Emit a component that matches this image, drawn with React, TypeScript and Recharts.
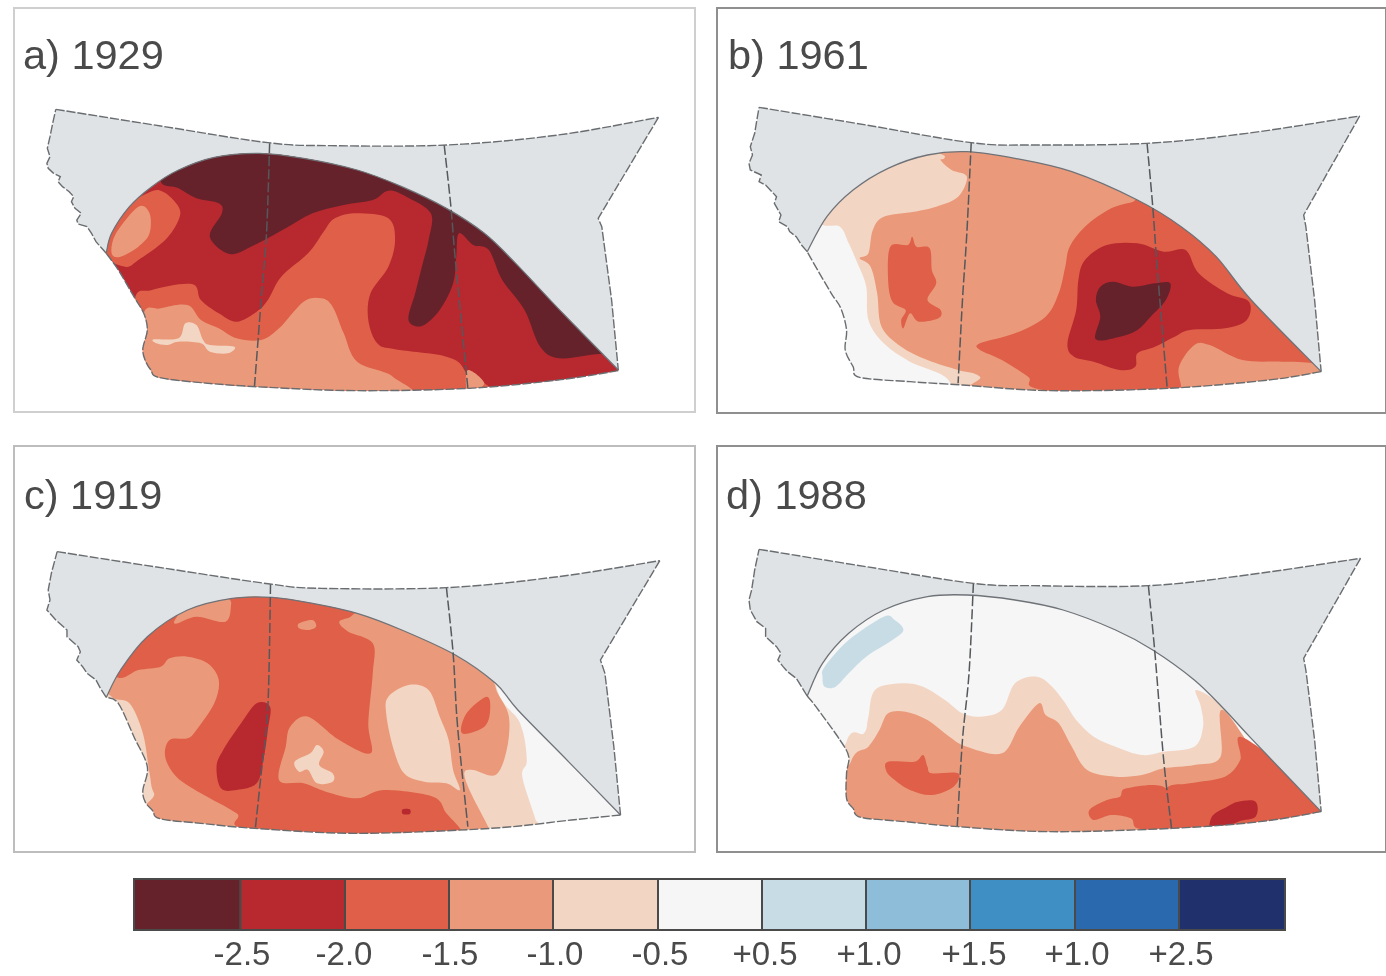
import React from 'react';
import { ScatterChart, Scatter, XAxis, YAxis, ReferenceArea, ReferenceDot } from 'recharts';

type P = number[][];
const W = 1386, H = 976, PLOT_H = 932;
const FONT = '"Liberation Sans", Arial, sans-serif';

const shades = ['#66222a', '#b8282f', '#df5f49', '#ea9a7a', '#f3d5c3', '#f6f6f6', '#c8dce6', '#8dbdd9', '#3f8fc4', '#2a69ad', '#20306c'];
const GRAY = '#dfe3e6';
const legendLabels = ['-2.5', '-2.0', '-1.5', '-1.0', '-0.5', '+0.5', '+1.0', '+1.5', '+1.0', '+2.5'];
const legendTicks = [242, 344, 450, 555, 660, 765, 869, 974, 1077, 1181];

// ---- panel a
const aTop: P = [[125,328],[360,378],[600,428],[740,437],[1000,435],[1250,405],[1475,352]];
const aEast: P = [[1475,352],[1340,655],[1348,680],[1370,900],[1385,1110]];
const aSouth: P = [[1385,1112],[1250,1140],[1050,1165],[800,1172],[600,1162],[450,1148],[355,1132],[338,1110],[325,1080],[320,1045],[330,990],[322,940],[300,890],[265,810],[238,760]];
const aWest: P = [[238,760],[228,745],[215,725],[205,700],[195,680],[175,672],[172,660],[182,640],[168,625],[160,605],[165,590],[155,575],[140,560],[130,545],[135,530],[120,520],[108,505],[105,490],[112,470],[106,445],[112,410],[118,370],[125,328]];
const aArc: P = [[238,760],[250,700],[290,620],[340,560],[400,510],[480,472],[580,460],[680,475],[800,510],[900,560],[1000,625],[1085,700],[1155,790],[1250,925],[1385,1110]];
const aLine1: P = [[604,430],[597,700],[585,900],[570,1160]];
const aLine2: P = [[995,435],[1010,620],[1020,780],[1048,1165]];
const aR1: P = [[360,540],[400,565],[440,595],[490,610],[497,640],[470,710],[515,762],[570,735],[640,685],[700,640],[770,615],[835,600],[870,572],[910,590],[965,640],[960,720],[945,800],[930,880],[915,960],[945,978],[985,930],[1015,850],[1022,770],[1028,700],[1060,735],[1095,750],[1125,840],[1175,930],[1210,1040],[1255,1075],[1345,1062],[1400,1080],[1400,1000],[1100,600],[800,420],[400,420]];
const aR2: P = [[300,910],[340,870],[430,852],[450,900],[490,940],[530,965],[575,935],[600,900],[630,830],[690,760],[725,695],[750,655],[800,640],[870,655],[885,720],[870,800],[830,880],[825,960],[845,1030],[885,1048],[1000,1070],[1040,1110],[1048,1200],[300,1200]];
const aR3: P = [[320,950],[360,925],[420,915],[450,960],[490,985],[530,1015],[585,1020],[625,985],[680,905],[720,895],[745,920],[770,1000],[800,1085],[880,1130],[885,1200],[320,1200]];
const aR4: P = [[345,1018],[400,1015],[415,970],[440,975],[455,1020],[470,1035],[525,1040],[510,1060],[470,1055],[450,1030],[400,1025],[375,1035],[350,1030]];
const aR5: P = [[1048,1110],[1085,1150],[1048,1175]];
const aR6: P = [[330,580],[365,575],[400,620],[400,660],[370,720],[310,780],[280,800],[230,760],[250,650]];
const aR7: P = [[310,620],[335,640],[335,700],[310,740],[270,770],[250,760],[260,700]];

// ---- panel b
const bTop: P = [[135,322],[380,375],[620,428],[760,435],[1020,430],[1250,400],[1508,348]];
const bEast: P = [[1508,348],[1380,645],[1385,680],[1405,900],[1420,1115]];
const bSouth: P = [[1420,1115],[1300,1140],[1070,1165],[800,1172],[600,1155],[480,1145],[365,1132],[350,1100],[332,1050],[335,990],[322,925],[300,880],[260,790],[245,755]];
const bWest: P = [[245,755],[232,735],[220,710],[205,695],[200,680],[180,665],[185,645],[170,610],[175,590],[150,555],[135,545],[140,525],[115,510],[112,490],[120,465],[115,440],[125,400],[130,360],[135,322]];
const bArc: P = [[245,755],[290,650],[350,570],[430,505],[520,465],[610,455],[720,475],[850,515],[1000,600],[1100,680],[1180,770],[1260,900],[1420,1115]];
const bLine1: P = [[620,428],[610,700],[600,900],[590,1150]];
const bLine2: P = [[1022,430],[1035,620],[1045,800],[1068,1165]];
const bR1: P = [[270,650],[320,680],[340,730],[360,790],[380,860],[385,960],[420,1030],[480,1085],[560,1130],[600,1200],[680,1200],[1500,1200],[1500,400],[300,400]];
const bR2: P = [[560,470],[550,480],[575,510],[610,530],[590,590],[540,620],[490,635],[420,650],[395,690],[385,760],[365,775],[390,800],[405,880],[415,980],[460,1040],[520,1080],[590,1110],[640,1130],[670,1200],[1500,1200],[1500,400],[560,400]];
const bR3: P = [[990,605],[940,625],[880,680],[845,740],[835,800],[820,880],[790,950],[720,1000],[640,1030],[640,1050],[690,1080],[750,1130],[785,1170],[1100,1200],[1100,1160],[1095,1100],[1130,1035],[1165,1035],[1240,1080],[1330,1085],[1400,1090],[1430,1120],[1430,1050],[1260,850],[1100,650],[1010,590]];
const bR4: P = [[880,780],[930,735],[1000,730],[1060,755],[1110,750],[1140,820],[1205,880],[1255,905],[1250,960],[1200,985],[1120,990],[1085,1010],[1040,1040],[1000,1060],[995,1100],[960,1110],[900,1085],[855,1070],[840,1030],[860,930],[865,840]];
const bR5: P = [[915,860],[945,845],[990,860],[1040,850],[1075,850],[1065,900],[1030,950],[1000,990],[960,1010],[905,1018],[915,950],[905,900]];
const bR6: P = [[435,740],[475,735],[485,710],[495,740],[525,745],[530,810],[540,850],[520,900],[550,930],[545,955],[500,965],[480,940],[465,985],[460,960],[470,930],[440,905],[430,840]];

// ---- panel c
const cTop: P = [[128,335],[370,385],[605,432],[720,445],[1000,443],[1250,410],[1478,362]];
const cEast: P = [[1478,362],[1345,660],[1355,700],[1375,920],[1390,1125]];
const cSouth: P = [[1390,1125],[1280,1140],[1100,1165],[800,1180],[570,1165],[450,1150],[358,1136],[342,1112],[325,1085],[320,1050],[330,980],[300,890],[265,790],[238,772]];
const cWest: P = [[238,772],[225,745],[215,720],[195,700],[185,680],[172,660],[180,635],[175,620],[150,590],[150,570],[125,540],[105,510],[112,480],[108,450],[115,400],[128,335]];
const cArc: P = [[238,772],[270,690],[330,590],[420,510],[520,475],[610,472],[700,490],[800,520],[900,570],[1020,645],[1110,730],[1160,810],[1275,967],[1390,1125]];
const cLine1: P = [[606,432],[600,800],[585,1000],[572,1165]];
const cLine2: P = [[1000,443],[1015,640],[1025,860],[1048,1160]];
const cR1: P = [[1110,730],[1165,850],[1180,960],[1170,1010],[1200,1140],[1210,1200],[200,1200],[200,400],[1100,400]];
const cR2: P = [[250,770],[290,790],[320,880],[335,1000],[345,1060],[385,1145],[1100,1200],[1095,1165],[1055,1060],[1040,1000],[1060,990],[1110,1005],[1135,930],[1140,830],[1115,760],[1095,700],[1000,500],[500,400],[250,700]];
const cR3: P = [[870,770],[915,735],[960,750],[985,830],[1005,900],[1015,990],[1030,1050],[1000,1030],[950,1025],[905,1000],[880,920],[865,820]];
const cR4: P = [[260,710],[310,690],[360,680],[380,655],[420,650],[465,670],[490,720],[480,790],[440,870],[420,895],[380,900],[370,950],[395,1010],[450,1060],[530,1120],[570,1170],[1040,1200],[1030,1165],[1000,1120],[970,1070],[860,1050],[800,1075],[730,1055],[680,1030],[625,1020],[640,920],[650,860],[690,830],[760,900],[830,940],[825,850],[835,700],[835,610],[780,575],[760,545],[790,525],[800,470],[518,440],[518,490],[505,545],[440,530],[390,550],[400,490],[200,600]];
const cR5: P = [[670,550],[700,540],[708,560],[690,570],[670,565]];
const cR6: P = [[575,790],[605,800],[600,870],[590,960],[575,1030],[530,1050],[495,1045],[485,980],[500,930],[540,850]];
const cR7: P = [[1090,770],[1098,810],[1085,860],[1035,880],[1045,820]];
const cR8: P = [[660,965],[695,940],[710,915],[725,935],[715,975],[745,1000],[745,1025],[710,1030],[690,990],[670,995]];
const cR9: P = [[902,1108],[918,1108],[918,1122],[902,1122]];

// ---- panel d
const dTop: P = [[135,328],[380,380],[625,430],[760,437],[1025,437],[1250,405],[1510,355]];
const dEast: P = [[1510,355],[1380,655],[1385,690],[1405,900],[1420,1115]];
const dSouth: P = [[1420,1115],[1280,1145],[1080,1165],[800,1175],[590,1160],[470,1145],[368,1132],[350,1105],[335,1075],[335,1000],[340,950],[320,900],[265,800],[245,768]];
const dWest: P = [[245,768],[232,740],[220,715],[200,695],[190,680],[178,660],[185,640],[175,620],[150,590],[150,565],[130,545],[115,510],[112,480],[118,450],[125,390],[135,328]];
const dArc: P = [[245,768],[280,670],[340,580],[420,510],[520,470],[610,465],[720,480],[830,510],[950,570],[1035,630],[1130,720],[1200,810],[1260,895],[1420,1115]];
const dLine1: P = [[625,430],[615,700],[600,900],[588,1160]];
const dLine2: P = [[1025,437],[1040,640],[1060,960],[1078,1165]];
const dR1: P = [[285,680],[340,600],[420,530],[445,540],[465,570],[440,600],[380,650],[340,700],[310,740],[285,740],[280,710]];
const dR2: P = [[335,905],[375,880],[385,830],[400,750],[460,730],[510,740],[560,780],[600,820],[640,830],[690,810],[720,730],[770,710],[805,740],[835,790],[860,840],[900,890],[950,920],[1010,945],[1060,935],[1130,920],[1150,860],[1145,800],[1135,750],[1200,810],[1300,1000],[1430,1200],[300,1200]];
const dR3: P = [[345,965],[385,920],[410,870],[430,820],[470,815],[520,840],[570,890],[610,920],[690,940],[730,860],[775,790],[790,825],[820,850],[850,920],[885,990],[950,1010],[1010,1005],[1060,985],[1130,975],[1190,950],[1195,810],[1300,1000],[1430,1200],[300,1200]];
const dR4: P = [[1245,895],[1235,960],[1200,1010],[1120,1030],[1065,1050],[1070,1170],[1440,1200],[1440,1100]];
const dR5: P = [[890,1110],[930,1080],[960,1070],[975,1045],[1065,1045],[1070,1165],[1000,1165],[985,1135],[940,1125],[900,1140]];
const dR6: P = [[430,965],[490,965],[510,945],[520,980],[530,1000],[590,1000],[580,1040],[530,1065],[480,1050],[440,1015],[425,990]];
const dR7: P = [[1170,1130],[1205,1100],[1230,1085],[1270,1085],[1270,1130],[1230,1145],[1170,1180]];

const panels = [
  { id: 'a', title: 'a) 1929', ox: 0, oy: 0, sx: 2.24, frame: [14, 695, 8, 412], frameColor: '#cfcfcf', titleAt: [23, 54],
    top: aTop, east: aEast, south: aSouth, west: aWest, arc: aArc, lines: [aLine1, aLine2], base: 1,
    regions: [[aR1, 0], [aR2, 2], [aR3, 3], [aR4, 4], [aR5, 3], [aR6, 2], [aR7, 3]] },
  { id: 'b', title: 'b) 1961', ox: 700, oy: 0, sx: 2.286, frame: [717, 1386, 8, 413], frameColor: '#8f8f8f', titleAt: [728, 54],
    top: bTop, east: bEast, south: bSouth, west: bWest, arc: bArc, lines: [bLine1, bLine2], base: 5,
    regions: [[bR1, 4], [bR2, 3], [bR3, 2], [bR4, 1], [bR5, 0], [bR6, 2]] },
  { id: 'c', title: 'c) 1919', ox: 0, oy: 440, sx: 2.24, frame: [14, 695, 446, 852], frameColor: '#bdbdbd', titleAt: [24, 494],
    top: cTop, east: cEast, south: cSouth, west: cWest, arc: cArc, lines: [cLine1, cLine2], base: 5,
    regions: [[cR1, 4], [cR2, 3], [cR3, 4], [cR4, 2], [cR5, 3], [cR6, 1], [cR7, 2], [cR8, 4], [cR9, 1]] },
  { id: 'd', title: 'd) 1988', ox: 700, oy: 440, sx: 2.286, frame: [717, 1386, 446, 852], frameColor: '#8f8f8f', titleAt: [726, 494],
    top: dTop, east: dEast, south: dSouth, west: dWest, arc: dArc, lines: [dLine1, dLine2], base: 5,
    regions: [[dR1, 6], [dR2, 4], [dR3, 3], [dR4, 2], [dR5, 2], [dR6, 2], [dR7, 1]] },
] as any[];

const legendEdges = [134, 240.5, 345, 449, 553, 658, 762, 866, 970, 1075, 1179, 1285];

const Nothing = () => <g />;

const toChart = (p: any, pts: P) => pts.map(([x, y]) => ({ x: p.ox + x / p.sx, y: p.oy + y / 3 }));

// Catmull-Rom segments between the points that came out of the chart's scales.
const openCurve = (pts: any[], move: boolean) => {
  let d = move ? `M${pts[0].x} ${pts[0].y}` : `L${pts[0].x} ${pts[0].y}`;
  for (let i = 0; i < pts.length - 1; i++) {
    const p0 = pts[Math.max(0, i - 1)], p1 = pts[i], p2 = pts[i + 1], p3 = pts[Math.min(pts.length - 1, i + 2)];
    d += `C${p1.x + (p2.x - p0.x) / 6} ${p1.y + (p2.y - p0.y) / 6} ${p2.x - (p3.x - p1.x) / 6} ${p2.y - (p3.y - p1.y) / 6} ${p2.x} ${p2.y}`;
  }
  return d;
};
const closedCurve = (pts: any[]) => {
  const n = pts.length;
  let d = `M${pts[0].x} ${pts[0].y}`;
  for (let i = 0; i < n; i++) {
    const p0 = pts[(i - 1 + n) % n], p1 = pts[i], p2 = pts[(i + 1) % n], p3 = pts[(i + 2) % n];
    d += `C${p1.x + (p2.x - p0.x) / 6} ${p1.y + (p2.y - p0.y) / 6} ${p2.x - (p3.x - p1.x) / 6} ${p2.y - (p3.y - p1.y) / 6} ${p2.x} ${p2.y}`;
  }
  return d + 'Z';
};
const linear = (pts: any[], move: boolean) =>
  pts.map((q, i) => `${i === 0 && move ? 'M' : 'L'}${q.x} ${q.y}`).join('');
// segs: [count, smooth] pieces of the flat point list, each with a hard corner at its ends.
const pieces = (pts: any[], segs: [number, boolean][], close: boolean) => {
  let at = 0, d = '';
  segs.forEach(([n, smooth], i) => {
    const part = pts.slice(at, at + n);
    d += smooth ? openCurve(part, i === 0) : linear(part, i === 0);
    at += n;
  });
  return d + (close ? 'Z' : '');
};

const shapeSeries = (key: string, pts: any[], build: (q: any[]) => string, fill: string, clip?: string, defineClip?: string) => (
  <Scatter
    key={key}
    data={pts}
    isAnimationActive={false}
    shape={Nothing}
    line={(props: any) => {
      const d = build(props.points);
      return (
        <g>
          {defineClip ? (
            <defs>
              <clipPath id={defineClip}>
                <path d={d} />
              </clipPath>
            </defs>
          ) : null}
          <path d={d} fill={fill} stroke="none" clipPath={clip ? `url(#${clip})` : undefined} />
        </g>
      );
    }}
  />
);

const strokeSeries = (key: string, pts: any[], smooth: boolean, color: string, dash?: string, width = 1.3) => (
  <Scatter
    key={key}
    data={pts}
    isAnimationActive={false}
    shape={Nothing}
    line={(props: any) => (
      <path
        d={smooth ? openCurve(props.points, true) : linear(props.points, true)}
        fill="none"
        stroke={color}
        strokeWidth={width}
        strokeDasharray={dash}
      />
    )}
  />
);

const seriesFor = (p: any) => {
  const clip = `domain-${p.id}`;
  const out: React.ReactNode[] = [];
  const stateSegs: [number, boolean][] = [[p.top.length, true], [p.east.length, false], [p.south.length, true], [p.west.length, false]];
  const domainSegs: [number, boolean][] = [[p.arc.length, true], [p.south.length, true]];
  out.push(shapeSeries(`${p.id}-state`, toChart(p, [...p.top, ...p.east, ...p.south, ...p.west]), (q) => pieces(q, stateSegs, true), GRAY));
  out.push(shapeSeries(`${p.id}-domain`, toChart(p, [...p.arc, ...p.south]), (q) => pieces(q, domainSegs, true), shades[p.base], undefined, clip));
  p.regions.forEach(([pts, shade]: [P, number], i: number) => {
    out.push(shapeSeries(`${p.id}-r${i}`, toChart(p, pts), closedCurve, shades[shade], clip));
  });
  out.push(strokeSeries(`${p.id}-arc`, toChart(p, p.arc), true, '#6f7378', undefined, 1.3));
  p.lines.forEach((l: P, i: number) => out.push(strokeSeries(`${p.id}-line${i}`, toChart(p, l), true, '#55585c', '10 3', 1.5)));
  [p.top, p.east, p.south, p.west].forEach((l: P, i: number) =>
    out.push(strokeSeries(`${p.id}-edge${i}`, toChart(p, l), i === 0 || i === 2, '#6a6d70', '9 2', 1.4)),
  );
  return out;
};

export default function App() {
  return (
    <div style={{ position: 'absolute', left: 0, top: 0, width: W, height: H, background: '#fff', overflow: 'hidden', filter: 'blur(0.6px)' }}>
      <ScatterChart width={W} height={H} margin={{ top: 0, right: 0, bottom: 0, left: 0 }}>
        <XAxis
          type="number"
          dataKey="x"
          domain={[0, W]}
          ticks={legendTicks}
          interval={0}
          height={H - PLOT_H}
          axisLine={false}
          tickLine={false}
          tickMargin={4}
          tick={{ fontSize: 33, fill: '#4a4a4a', fontFamily: FONT }}
          tickFormatter={(v: number) => legendLabels[legendTicks.indexOf(v)]}
        />
        <YAxis type="number" dataKey="y" domain={[0, PLOT_H]} reversed hide />
        {panels.map((p) => (
          <ReferenceArea
            key={`frame-${p.id}`}
            x1={p.frame[0]}
            x2={p.frame[1]}
            y1={p.frame[2]}
            y2={p.frame[3]}
            fill="#fff"
            fillOpacity={1}
            stroke={p.frameColor}
            strokeWidth={2}
          />
        ))}
        {shades.map((c, i) => (
          <ReferenceArea
            key={`legend-${i}`}
            x1={legendEdges[i]}
            x2={legendEdges[i + 1]}
            y1={879}
            y2={930}
            fill={c}
            fillOpacity={1}
            stroke="#4a4a4a"
            strokeWidth={2}
          />
        ))}
        {panels.flatMap(seriesFor)}
        {panels.map((p) => (
          <ReferenceDot
            key={`title-${p.id}`}
            x={p.titleAt[0]}
            y={p.titleAt[1]}
            r={0}
            fill="none"
            stroke="none"
            label={{ value: p.title, position: 'right', offset: 0, fontSize: 41.5, fill: '#4a4a4a', fontFamily: FONT }}
          />
        ))}
      </ScatterChart>
    </div>
  );
}
